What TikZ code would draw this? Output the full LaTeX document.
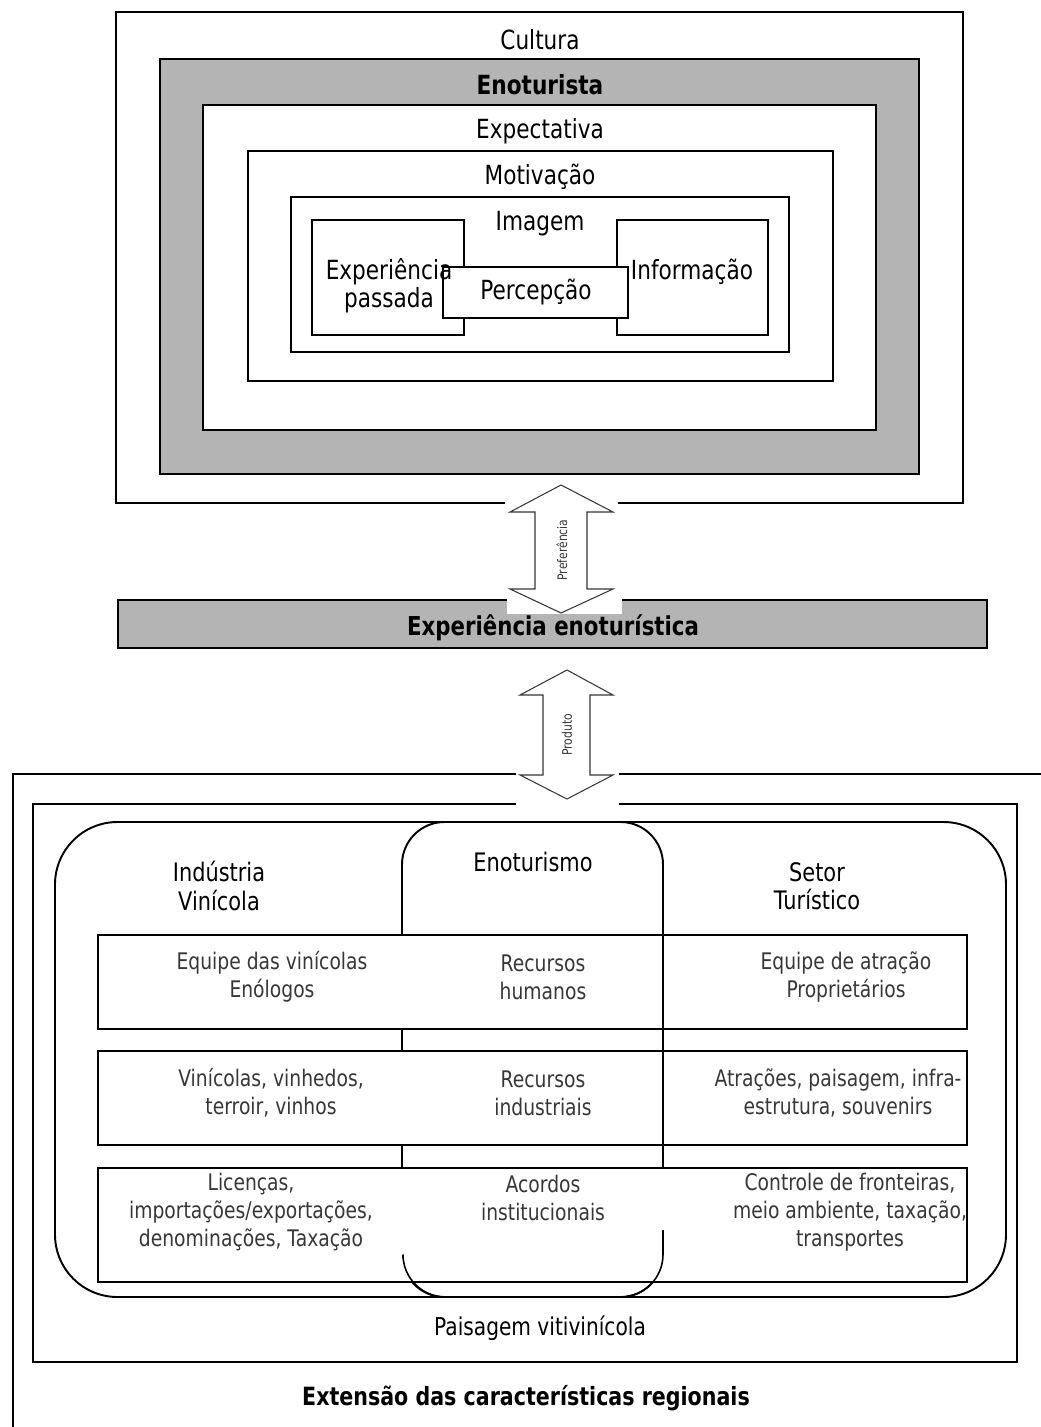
\documentclass[tikz,border=0pt]{standalone}
\usepackage{fontspec}
\setmainfont{DejaVu Sans}[FakeStretch=0.82]
\definecolor{boxgray}{RGB}{180,180,180}
\definecolor{inkgray}{RGB}{55,55,55}
\begin{document}
\begin{tikzpicture}[x=0.02cm,y=-0.02cm,
  frame/.style={line width=1.1pt},
  thinframe/.style={line width=0.9pt},
  arrowshape/.style={draw=inkgray,fill=white,line width=0.6pt,line join=miter},
  toplbl/.style={font=\fontsize{15}{18}\selectfont,inner sep=0pt},
  topbold/.style={font=\fontsize{15}{18}\selectfont\bfseries,inner sep=0pt},
  hdrlbl/.style={font=\fontsize{14.5}{16}\selectfont,align=center,inner sep=0pt},
  rowlbl/.style={font=\fontsize{13}{16}\selectfont,align=center,inner sep=0pt,text=inkgray},
  arrlbl/.style={font=\fontsize{7.5}{9}\selectfont,rotate=90,inner sep=0pt,text=inkgray}]
\useasboundingbox (0,0) rectangle (1041,1427);
\fill[white] (0,0) rectangle (1041,1427);

% ---------- nested frames of the wine tourist ----------
\draw[frame] (505,503) -| (116,12) -| (963,503) -- (618,503);
\filldraw[frame,fill=boxgray] (160,59) rectangle (919,474);
\filldraw[frame,fill=white] (203,105) rectangle (876,430);
\draw[frame] (248,151) rectangle (833,381);
\draw[frame] (291,197) rectangle (789,352);
\draw[thinframe] (312,220) rectangle (464,335);
\draw[thinframe] (617,220) rectangle (768,335);
\filldraw[thinframe,fill=white] (443,267) rectangle (628,318);

\node[toplbl] (cultura) at (540,40) {Cultura};
\node[topbold] (enoturista) at (540,85) {Enoturista};
\node[toplbl] (expectativa) at (540,131) {Expectativa};
\node[toplbl] (motivacao) at (540,177) {Motivação};
\node[toplbl] (imagem) at (540,224) {Imagem};
\node[toplbl,align=center,font=\fontsize{15}{16}\selectfont] (exppassada) at (389,286) {Experiência\\passada};
\node[toplbl] (percepcao) at (536,292) {Percepção};
\node[toplbl] (informacao) at (692,272) {Informação};

% ---------- central bar ----------
\fill[boxgray] (118,600) rectangle (987,648);
\fill[white] (507,600) rectangle (622,614);
\draw[frame] (507,600) -| (118,648) -| (987,600) -- (622,600);
\node[font=\fontsize{14.8}{16}\selectfont\bfseries,inner sep=0pt] (experiencia) at (553,628) {Experiência enoturística};

% ---------- regional frame ----------
\draw[frame] (516,774) -- (13,774) -- (13,1427);
\draw[frame] (619,774) -- (1041,774);
\draw[frame] (516,804) -| (33,1362) -| (1017,804) -- (619,804);

% sectors
\draw[frame,rounded corners=1.25cm] (55,822) rectangle (1006,1297);
\draw[frame,rounded corners=0.85cm] (402,822) rectangle (663,1297);

% rows of resources
\filldraw[frame,fill=white] (98,935) rectangle (967,1029);
\filldraw[frame,fill=white] (98,1051) rectangle (967,1145);
\filldraw[frame,fill=white] (98,1168) rectangle (967,1282);

% parts of the Enoturismo outline lying over the rows
\draw[thinframe] (663,935) -- (663,1145);
\draw[thinframe,rounded corners=0.85cm] (403,1258) -- (403,1297) -- (663,1297) -- (663,1230);

\node[hdrlbl] (industria) at (219,886) {Indústria\\Vinícola};
\node[hdrlbl] (enoturismo) at (533,862) {Enoturismo};
\node[hdrlbl] (setor) at (817,886) {Setor\\Turístico};

\node[rowlbl] (r1a) at (272,977) {Equipe das vinícolas\\Enólogos};
\node[rowlbl] (r1b) at (543,977) {Recursos\\humanos};
\node[rowlbl] (r1c) at (846,977) {Equipe de atração\\Proprietários};

\node[rowlbl] (r2a) at (271,1093) {Vinícolas, vinhedos,\\terroir, vinhos};
\node[rowlbl] (r2b) at (543,1093) {Recursos\\industriais};
\node[rowlbl] (r2c) at (838,1093) {Atrações, paisagem, infra-\\estrutura, souvenirs};

\node[rowlbl] (r3a) at (251,1212) {Licenças,\\importações/exportações,\\denominações, Taxação};
\node[rowlbl] (r3b) at (543,1198) {Acordos\\institucionais};
\node[rowlbl] (r3c) at (850,1212) {Controle de fronteiras,\\meio ambiente, taxação,\\transportes};

\node[font=\fontsize{14}{16}\selectfont,inner sep=0pt] (paisagem) at (540,1328) {Paisagem vitivinícola};
\node[font=\fontsize{14.3}{16}\selectfont\bfseries,inner sep=0pt] (extensao) at (526,1398) {Extensão das características regionais};

% ---------- two-way arrows ----------
\draw[arrowshape] (561,485) -- (613,512) -- (587,512) -- (587,589) -- (613,589)
  -- (561,613) -- (510,589) -- (535,589) -- (535,512) -- (510,512) -- cycle;
\node[arrlbl] (preferencia) at (562,550) {Preferência};

\draw[arrowshape] (567,670) -- (613,695) -- (590,695) -- (590,775) -- (613,775)
  -- (567,799) -- (520,775) -- (543,775) -- (543,695) -- (520,695) -- cycle;
\node[arrlbl] (produto) at (567,735) {Produto};
\end{tikzpicture}
\end{document}
